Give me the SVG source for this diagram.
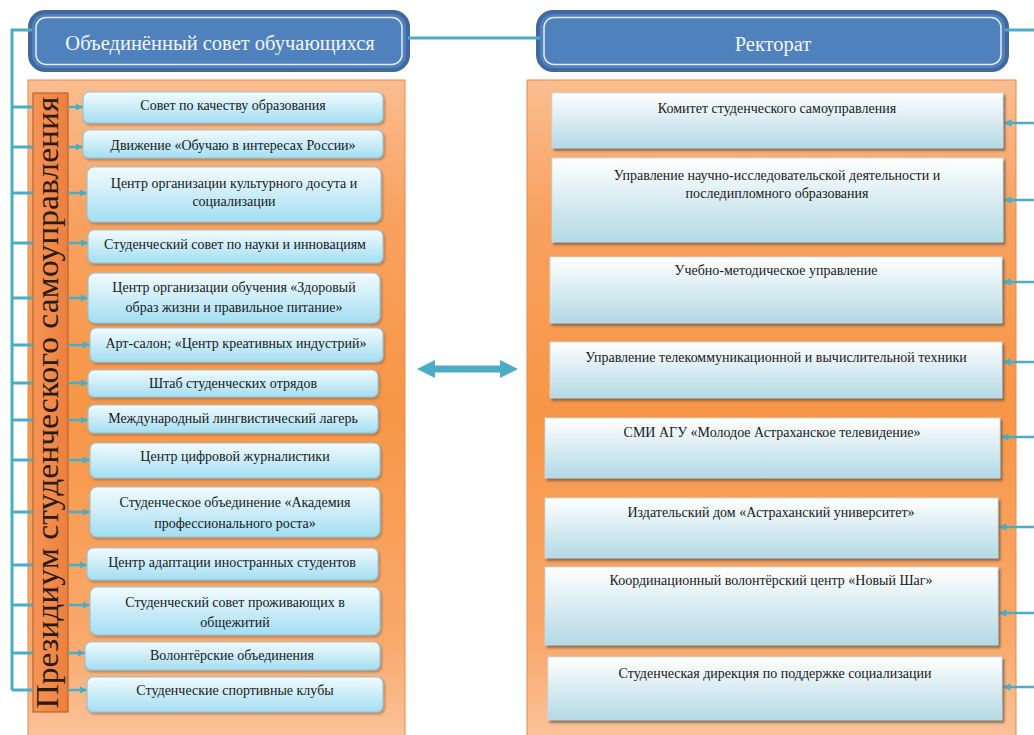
<svg xmlns="http://www.w3.org/2000/svg" width="1034" height="735" viewBox="0 0 1034 735">
<defs>
<linearGradient id="gOrange" x1="0" y1="0" x2="0" y2="1">
<stop offset="0" stop-color="#fbbd90"/>
<stop offset="0.2" stop-color="#f8a261"/>
<stop offset="0.5" stop-color="#f79646"/>
<stop offset="0.85" stop-color="#f9a96c"/>
<stop offset="1" stop-color="#fbc39b"/>
</linearGradient>
<linearGradient id="gBar" x1="0" y1="0" x2="1" y2="0">
<stop offset="0" stop-color="#f59456"/>
<stop offset="1" stop-color="#ec7f3e"/>
</linearGradient>
<linearGradient id="gLBox" x1="0" y1="0" x2="0" y2="1">
<stop offset="0" stop-color="#f3fbfe"/>
<stop offset="1" stop-color="#a3def2"/>
</linearGradient>
<linearGradient id="gRBox" x1="0" y1="0" x2="0" y2="1">
<stop offset="0" stop-color="#ffffff"/>
<stop offset="1" stop-color="#b3d9e5"/>
</linearGradient>
<filter id="shL" x="-5%" y="-20%" width="110%" height="150%">
<feDropShadow dx="1.5" dy="2" stdDeviation="1.2" flood-color="#8a6a50" flood-opacity="0.6"/>
</filter>
<filter id="shR" x="-5%" y="-20%" width="110%" height="150%">
<feDropShadow dx="2" dy="2.5" stdDeviation="1" flood-color="#6b5a4a" flood-opacity="0.8"/>
</filter>
<marker id="ah" viewBox="0 0 10 10" refX="10" refY="5" markerWidth="3" markerHeight="3" orient="auto" markerUnits="strokeWidth">
<path d="M0,0 L10,5 L0,10 z" fill="#4bacc6"/>
</marker>
</defs>
<style>
.t{font-family:'Liberation Serif','Times New Roman',serif;fill:#1a1a1a;font-size:14px;text-anchor:middle}
.h{font-family:'Liberation Serif','Times New Roman',serif;fill:#f4f6fa;font-size:20.5px;text-anchor:middle}
.hdr{fill:#4f81bd;stroke:#41699d;stroke-width:4}
.hdrIn{fill:none;stroke:#e4ecf6;stroke-width:1.5}
.lb{fill:url(#gLBox);stroke:#9cc4d2;stroke-width:1.2;filter:url(#shL)}
.rb{fill:url(#gRBox);stroke:#c9dde4;stroke-width:0.8;filter:url(#shR)}
.c{fill:none;stroke:#4bacc6;stroke-width:3}
.a{fill:none;stroke:#4bacc6;stroke-width:2.5;marker-end:url(#ah)}
</style>

<rect id="panel-left" x="28" y="80" width="377" height="660" fill="url(#gOrange)" stroke="#e58a4c" stroke-width="1"/>
<rect id="panel-right" x="527" y="80" width="489" height="660" fill="url(#gOrange)" stroke="#e58a4c" stroke-width="1"/>

<g font-family="Liberation Serif, Times New Roman, serif">
<g id="header-left">
<rect class="hdr" x="30" y="12" width="378" height="58" rx="15"/>
<rect class="hdrIn" x="36" y="17.5" width="366" height="47" rx="10"/>
<text class="h" x="220" y="50">Объединённый совет обучающихся</text>
</g>
<g id="header-right">
<rect class="hdr" x="538" y="12" width="469" height="58" rx="15"/>
<rect class="hdrIn" x="544" y="17.5" width="457" height="47" rx="10"/>
<text class="h" x="773" y="51">Ректорат</text>
</g>

<g id="presidium">
<rect x="33" y="93" width="35" height="619" fill="url(#gBar)" stroke="#b8642e" stroke-width="1.2"/>
<text transform="translate(58,402.5) rotate(-90)" x="0" y="0" style="font-family:'Liberation Serif','Times New Roman',serif;font-size:32px;fill:#2a1a10;text-anchor:middle" textLength="612" lengthAdjust="spacingAndGlyphs">Президиум студенческого самоуправления</text>
</g>

<g id="connectors">
<path class="c" d="M32,30 H12 V690"/>
<path class="c" d="M12,107 H33 M12,147 H33 M12,193 H33 M12,243 H33 M12,298 H33 M12,345 H33 M12,383 H33 M12,420 H33 M12,460 H33 M12,512 H33 M12,565 H33 M12,605 H33 M12,653 H33 M12,690 H33"/>
<path class="a" d="M68,107 H83"/>
<path class="a" d="M68,147 H83"/>
<path class="a" d="M68,193 H87"/>
<path class="a" d="M68,243 H88"/>
<path class="a" d="M68,298 H88"/>
<path class="a" d="M68,345 H90"/>
<path class="a" d="M68,383 H88"/>
<path class="a" d="M68,420 H88"/>
<path class="a" d="M68,460 H90"/>
<path class="a" d="M68,512 H90"/>
<path class="a" d="M68,565 H87"/>
<path class="a" d="M68,605 H90"/>
<path class="a" d="M68,653 H85"/>
<path class="a" d="M68,690 H87"/>
<path class="c" d="M408,38 H540"/>
<path class="c" d="M1005,30 H1034"/>
<path class="a" d="M1034,123 H1004"/>
<path class="a" d="M1034,200 H1004"/>
<path class="a" d="M1034,282 H1003"/>
<path class="a" d="M1034,362 H1003"/>
<path class="a" d="M1034,437 H1001"/>
<path class="a" d="M1034,527 H999"/>
<path class="a" d="M1034,613 H999"/>
<path class="a" d="M1034,687 H1003"/>
<polygon points="417,369 435,360 435,365.5 500,365.5 500,360 518,369 500,378 500,372.5 435,372.5 435,378" fill="#4bacc6"/>
</g>

<g id="l1"><rect class="lb" x="83" y="92" width="300" height="31" rx="6"/><text class="t" x="233" y="110">Совет по качеству образования</text></g>
<g id="l2"><rect class="lb" x="83" y="130" width="300" height="28" rx="6"/><text class="t" x="233" y="150">Движение «Обучаю в интересах России»</text></g>
<g id="l3"><rect class="lb" x="87" y="167" width="294" height="55" rx="7"/><text class="t" x="234" y="188">Центр организации культурного досута и</text><text class="t" x="234" y="206">социализации</text></g>
<g id="l4"><rect class="lb" x="88" y="230" width="295" height="33" rx="6"/><text class="t" x="235" y="249">Студенческий совет по науки и инновациям</text></g>
<g id="l5"><rect class="lb" x="88" y="273" width="292" height="50" rx="7"/><text class="t" x="234" y="292">Центр организации обучения «Здоровый</text><text class="t" x="234" y="312">образ жизни и правильное питание»</text></g>
<g id="l6"><rect class="lb" x="90" y="328" width="293" height="34" rx="6"/><text class="t" x="236" y="348">Арт-салон; «Центр креативных индустрий»</text></g>
<g id="l7"><rect class="lb" x="88" y="370" width="290" height="27" rx="6"/><text class="t" x="233" y="388">Штаб студенческих отрядов</text></g>
<g id="l8"><rect class="lb" x="88" y="405" width="290" height="28" rx="6"/><text class="t" x="233" y="423">Международный лингвистический лагерь</text></g>
<g id="l9"><rect class="lb" x="90" y="443" width="290" height="35" rx="6"/><text class="t" x="235" y="461">Центр цифровой журналистики</text></g>
<g id="l10"><rect class="lb" x="90" y="487" width="290" height="50" rx="7"/><text class="t" x="235" y="507">Студенческое объединение «Академия</text><text class="t" x="235" y="528">профессионального роста»</text></g>
<g id="l11"><rect class="lb" x="87" y="548" width="291" height="32" rx="6"/><text class="t" x="232" y="567">Центр адаптации иностранных студентов</text></g>
<g id="l12"><rect class="lb" x="90" y="587" width="290" height="48" rx="7"/><text class="t" x="235" y="607">Студенческий совет проживающих в</text><text class="t" x="235" y="627">общежитий</text></g>
<g id="l13"><rect class="lb" x="85" y="642" width="295" height="28" rx="6"/><text class="t" x="232" y="660">Волонтёрские объединения</text></g>
<g id="l14"><rect class="lb" x="87" y="677" width="296" height="35" rx="6"/><text class="t" x="235" y="695">Студенческие спортивные клубы</text></g>

<g id="r1"><rect class="rb" x="552" y="93" width="451" height="55"/><text class="t" x="777" y="113">Комитет студенческого самоуправления</text></g>
<g id="r2"><rect class="rb" x="552" y="158" width="451" height="84"/><text class="t" x="777" y="180">Управление научно-исследовательской деятельности и</text><text class="t" x="777" y="198">последипломного образования</text></g>
<g id="r3"><rect class="rb" x="550" y="257" width="452" height="66"/><text class="t" x="776" y="275">Учебно-методическое управление</text></g>
<g id="r4"><rect class="rb" x="550" y="342" width="452" height="56"/><text class="t" x="776" y="362">Управление телекоммуникационной и вычислительной техники</text></g>
<g id="r5"><rect class="rb" x="545" y="418" width="455" height="60"/><text class="t" x="772" y="437">СМИ АГУ «Молодое Астраханское телевидение»</text></g>
<g id="r6"><rect class="rb" x="545" y="498" width="453" height="60"/><text class="t" x="771" y="517">Издательский дом «Астраханский университет»</text></g>
<g id="r7"><rect class="rb" x="545" y="567" width="453" height="78"/><text class="t" x="771" y="585">Координационный волонтёрский центр «Новый Шаг»</text></g>
<g id="r8"><rect class="rb" x="548" y="657" width="454" height="63"/><text class="t" x="775" y="678">Студенческая дирекция по поддержке социализации</text></g>
</g>
</svg>
